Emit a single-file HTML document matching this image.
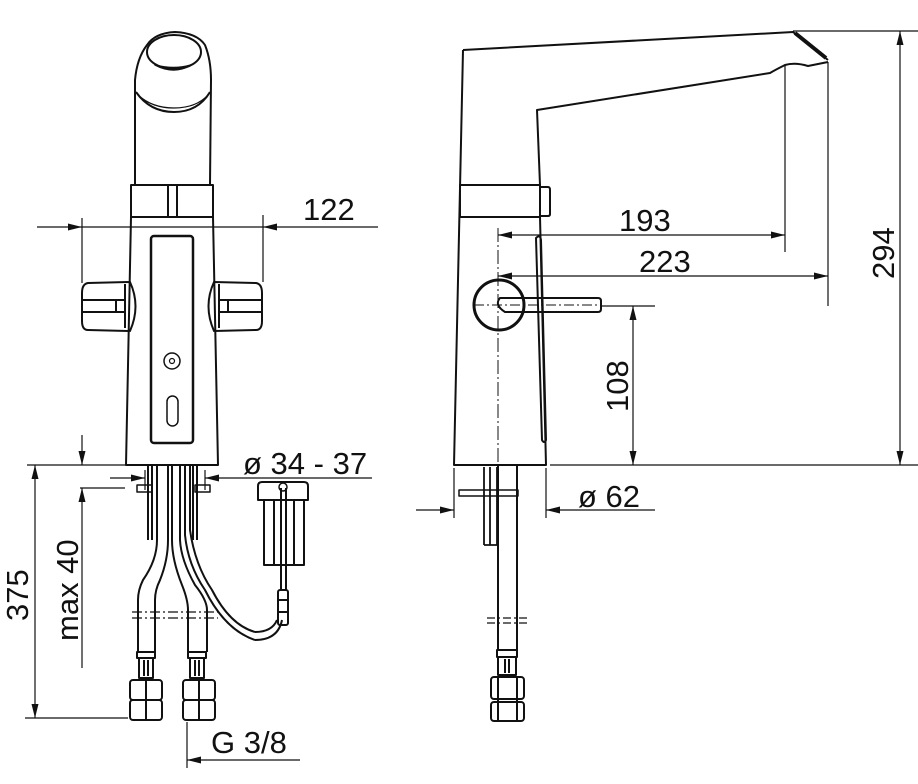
<!DOCTYPE html>
<html><head><style>
html,body{margin:0;padding:0;background:#fff;}
svg{display:block;}
text{font-family:"Liberation Sans",sans-serif;fill:#111;}
</style></head><body>
<svg width="918" height="784" viewBox="0 0 918 784" xmlns="http://www.w3.org/2000/svg">
<defs>
<marker id="a" viewBox="0 0 14 7" refX="14" refY="3.5" markerWidth="14" markerHeight="7" orient="auto-start-reverse" markerUnits="userSpaceOnUse"><path d="M0,0 L14,3.5 L0,7z" fill="#111"/></marker>
</defs>
<g fill="none" stroke="#111" stroke-width="2" stroke-linejoin="round">
<path d="M135,185 L135,80 Q137,58 147,45 Q155,33 175,32 Q197,33 205,45 Q211,60 211,80 L210,185"/>
<ellipse cx="174" cy="52" rx="27" ry="17"/>
<path d="M155,65 Q174,75 191,65 Q174,70 155,65z" stroke-width="1.5"/>
<path d="M136,92 Q150,112 174,112 Q198,112 210,92" />
<path d="M138,95 Q152,108 174,108 Q196,108 208,95" stroke-width="1.2"/>
<rect x="131" y="185" width="82" height="32"/>
<path d="M168,186 V216 M177,186 V216"/>
<path d="M131,217 L126,465 L218,465 L213,217"/>
<rect x="151" y="236" width="42" height="207" rx="3" stroke-width="2.5"/>
<circle cx="172" cy="361" r="8" stroke-width="1.5"/>
<circle cx="172" cy="361" r="2.5" stroke-width="1.2"/>
<rect x="167" y="396" width="11" height="30" rx="5.5" stroke-width="1.5"/>
<path d="M130,282 L88,283 Q82,284 82,293 L82,321 Q82,330 88,330 L130,331 Q141,306 130,282z"/>
<path d="M125,284 V328 M83,300 H125 M83,312 H125 M116,300 V312"/>
<path d="M214,282 L256,283 Q262,284 262,293 L262,321 Q262,330 256,330 L214,331 Q203,306 214,282z"/>
<path d="M219,284 V328 M261,300 H219 M261,312 H219 M228,300 V312"/>
<path d="M148,466 V540 M152,466 V540 M193,466 V540 M197,466 V540"/>
<rect x="137" y="485" width="15" height="7" stroke-width="1.5"/>
<rect x="195" y="485" width="15" height="7" stroke-width="1.5"/>
<path d="M157,466 V540 Q157,560 143,580 Q138,590 138,600 V652"/>
<path d="M168,466 V540 Q168,560 160,580 Q155,590 155,600 V652"/>
<path d="M172,466 V540 Q172,560 182,585 Q188,600 188,610 V652"/>
<path d="M180,466 V540 Q181,560 195,585 Q207,600 207,610 V652"/>
<path d="M185,466 V535 Q188,565 205,590 Q225,630 255,640"/>
<path d="M190,466 V530 Q195,565 212,590 Q230,625 255,632"/>
<path d="M255,640 Q278,640 282,620 M255,632 Q272,632 277,620"/>
<path d="M132,612 H218 M132,618 H218" stroke-width="1.2" stroke-dasharray="10,3,2,3"/>
<rect x="137" y="652" width="18" height="6"/><rect x="139" y="658" width="14" height="20"/>
<path d="M144,660 V676 M148,660 V676"/>
<rect x="130" y="680" width="32" height="20" rx="3"/><rect x="130" y="700" width="32" height="20" rx="3"/>
<path d="M146,680 V720"/>
<rect x="188" y="652" width="18" height="6"/><rect x="190" y="658" width="14" height="20"/>
<path d="M195,660 V676 M199,660 V676"/>
<rect x="183" y="680" width="32" height="20" rx="3"/><rect x="183" y="700" width="32" height="20" rx="3"/>
<path d="M199,680 V720"/>
<path d="M258,500 V486 Q258,482 262,482 H304 Q308,482 308,486 V500 Z"/>
<rect x="264" y="500" width="40" height="65"/>
<path d="M274,500 V565 M294,500 V565"/>
<path d="M281,488 V590 M286,488 V590"/>
<circle cx="283" cy="487" r="4" stroke-width="1.5"/>
<rect x="278" y="590" width="10" height="35" rx="2"/>
<path d="M278,600 H288 M278,612 H288"/>
<path d="M37,227 H82" stroke-width="1.2" marker-end="url(#a)"/>
<path d="M82,227 H263" stroke-width="1.2"/>
<path d="M378,227 H263" stroke-width="1.2" marker-end="url(#a)"/>
<path d="M82,218 V283 M263,215 V282" stroke-width="1.2"/>
<path d="M110,478 H145" stroke-width="1.2" marker-end="url(#a)"/>
<path d="M145,470 V490 M205,470 V490" stroke-width="1.2"/>
<path d="M372,478 H205" stroke-width="1.2" marker-end="url(#a)"/>
<path d="M27,465 H126 M25,718 H128 M80,488 H125" stroke-width="1.2"/>
<path d="M35,490 V465" stroke-width="1.2" marker-end="url(#a)"/>
<path d="M35,490 V693" stroke-width="1.2"/>
<path d="M35,693 V718" stroke-width="1.2" marker-end="url(#a)"/>
<path d="M82,435 V465" stroke-width="1.2" marker-end="url(#a)"/>
<path d="M82,668 V488" stroke-width="1.2" marker-end="url(#a)"/>
<path d="M187,722 V768" stroke-width="1.2"/>
<path d="M300,760 H187" stroke-width="1.2" marker-end="url(#a)"/>

<path d="M463,50 L793,32 L828,60"/>
<path d="M795,33 L826,58" stroke-width="4"/>
<path d="M828,62 L808,66 Q795,62 785,65 Q775,70 770,73 L537,110 L540,185"/>
<path d="M463,50 L454,465 L546,465 L540,217"/>
<rect x="460" y="185" width="80" height="32"/>
<path d="M540,187 H548 Q550,187 550,190 V214 Q550,216 548,216 H540"/>
<path d="M536,238 Q540,234 541,240 L546,440 Q544,444 542,440 Z"/>
<circle cx="499" cy="305" r="25" stroke-width="3"/>
<path d="M500,298 H598 Q601,298 601,301 V309 Q601,312 598,312 H505 Q494,305 500,298z" stroke-width="2"/>
<path d="M474,305 H600" stroke-width="1" stroke-dasharray="10,3,2,3"/>
<path d="M498,228 V465" stroke-width="1" stroke-dasharray="14,3,2,3"/>
<path d="M484,467 V545 M490,467 V545 M497,467 V545 L484,545" stroke-width="1.8"/>
<path d="M498,466 V650 M517,466 V650"/>
<rect x="459" y="490" width="59" height="6" stroke-width="1.5"/>
<path d="M487,618 H528 M487,623 H528" stroke-width="1.2" stroke-dasharray="8,3,2,3"/>
<rect x="497" y="650" width="20" height="7"/><rect x="498" y="657" width="18" height="18"/>
<path d="M505,659 V673 M509,659 V673"/>
<rect x="491" y="677" width="33" height="22" rx="3"/><rect x="491" y="702" width="33" height="19" rx="3"/>
<path d="M498,677 V721 M517,677 V721"/>
<path d="M785,65 V252 M828,62 V306" stroke-width="1.2"/>
<path d="M640,235 H498" stroke-width="1.2" marker-end="url(#a)"/>
<path d="M640,235 H785" stroke-width="1.2" marker-end="url(#a)"/>
<path d="M660,276 H498" stroke-width="1.2" marker-end="url(#a)"/>
<path d="M660,276 H828" stroke-width="1.2" marker-end="url(#a)"/>
<path d="M600,306 H655 M550,465 H918 M793,31 H918" stroke-width="1.2"/>
<path d="M633,386 V306" stroke-width="1.2" marker-end="url(#a)"/>
<path d="M633,386 V465" stroke-width="1.2" marker-end="url(#a)"/>
<path d="M900,248 V31" stroke-width="1.2" marker-end="url(#a)"/>
<path d="M900,248 V465" stroke-width="1.2" marker-end="url(#a)"/>
<path d="M454,468 V518 M546,468 V518" stroke-width="1.2"/>
<path d="M416,510 H454" stroke-width="1.2" marker-end="url(#a)"/>
<path d="M655,510 H546" stroke-width="1.2" marker-end="url(#a)"/>
</g>
<g font-size="31">
<text x="303" y="220">122</text>
<text x="243" y="474">ø 34 - 37</text>
<text x="211" y="753">G 3/8</text>
<text transform="translate(28,621) rotate(-90)">375</text>
<text transform="translate(78,641) rotate(-90)">max 40</text>
<text x="619" y="231">193</text>
<text x="639" y="272">223</text>
<text transform="translate(628,412) rotate(-90)">108</text>
<text transform="translate(894,279) rotate(-90)">294</text>
<text x="578" y="507">ø 62</text>
</g>
</svg>
</body></html>
